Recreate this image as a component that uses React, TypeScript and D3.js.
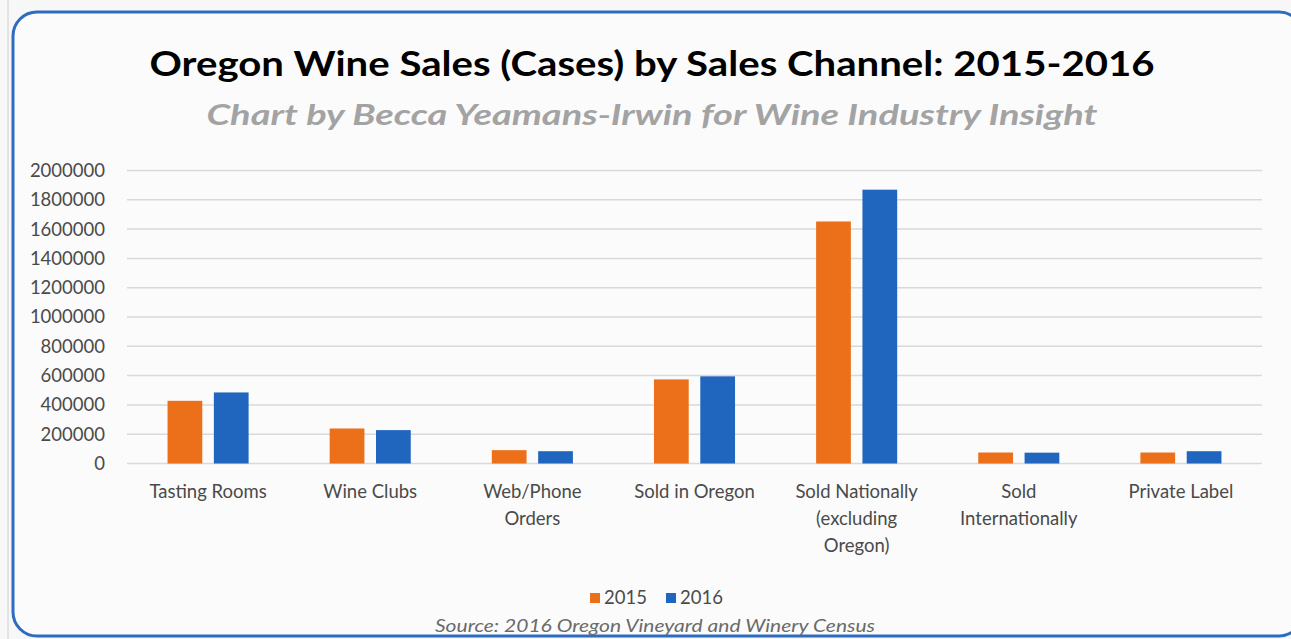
import React from 'react';
import * as d3 from 'd3';

const categories = [
  'Tasting Rooms',
  'Wine Clubs',
  'Web/Phone\nOrders',
  'Sold in Oregon',
  'Sold Nationally\n(excluding\nOregon)',
  'Sold\nInternationally',
  'Private Label',
];
const seriesNames = ['2015', '2016'];
const values2015 = [428000, 239000, 91000, 574000, 1652000, 75000, 75000];
const values2016 = [485000, 228000, 84000, 595000, 1869000, 74000, 84000];
const yTicks = [0, 200000, 400000, 600000, 800000, 1000000, 1200000, 1400000, 1600000, 1800000, 2000000];
const colors = ['#EC6F1A', '#2166BE'];

const W = 1291;
const H = 639;
const font = 'Lato, "Open Sans", sans-serif';

export default function App() {
  const x = d3.scaleBand<string>().domain(categories).range([127, 1262]).paddingInner(0.5).paddingOuter(0.25);
  const xi = d3.scaleBand<string>().domain(seriesNames).range([0, x.bandwidth()]).paddingInner(0.25);
  const y = d3.scaleLinear().domain([0, 2000000]).range([463.5, 170.5]);
  const series = [values2015, values2016];

  return (
    <svg width={W} height={H} style={{ position: 'absolute', left: 0, top: 0, background: '#f7f7f7' }} fontFamily={font}>
      <line x1={8} y1={0} x2={8} y2={H} stroke="#d0d0d0" strokeWidth={1} />
      <rect x={13} y={12} width={1290} height={624} rx={24} ry={24} fill="#fbfbfb" stroke="#2e6cc0" strokeWidth={3} />
      <text x={652} y={76} textAnchor="middle" fontSize={35} fontWeight={700} fill="#000" textLength={1005} lengthAdjust="spacingAndGlyphs">
        Oregon Wine Sales (Cases) by Sales Channel: 2015-2016
      </text>
      <text x={652} y={125} textAnchor="middle" fontSize={29} fontWeight={700} fontStyle="italic" fill="#a3a3a3" textLength={891} lengthAdjust="spacingAndGlyphs">
        Chart by Becca Yeamans-Irwin for Wine Industry Insight
      </text>
      {yTicks.map((t) => (
        <g key={t}>
          <line x1={127} x2={1262} y1={y(t)} y2={y(t)} stroke="#d9d9d9" strokeWidth={1.5} />
          <text x={105} y={y(t)} dy="0.35em" textAnchor="end" fontSize={18.5} fill="#4a4a4a">
            {t}
          </text>
        </g>
      ))}
      {categories.map((c, i) => (
        <g key={c}>
          {series.map((vals, s) => (
            <rect
              key={s}
              x={(x(c) as number) + (xi(seriesNames[s]) as number)}
              y={y(vals[i])}
              width={xi.bandwidth()}
              height={y(0) - y(vals[i])}
              fill={colors[s]}
            />
          ))}
          {c.split('\n').map((line, k) => (
            <text
              key={k}
              x={(x(c) as number) + x.bandwidth() / 2}
              y={492 + k * 27}
              dy="0.35em"
              textAnchor="middle"
              fontSize={18.5}
              fill="#4a4a4a"
            >
              {line}
            </text>
          ))}
        </g>
      ))}
      {seriesNames.map((s, k) => (
        <g key={s} transform={`translate(${590 + k * 76},0)`}>
          <rect x={0} y={593} width={10} height={10} fill={colors[k]} />
          <text x={14} y={598} dy="0.35em" fontSize={18.5} fill="#4a4a4a">
            {s}
          </text>
        </g>
      ))}
      <text x={655} y={632} textAnchor="middle" fontSize={17} fontStyle="italic" fill="#6a6a6a" textLength={440} lengthAdjust="spacingAndGlyphs">
        Source: 2016 Oregon Vineyard and Winery Census
      </text>
    </svg>
  );
}
